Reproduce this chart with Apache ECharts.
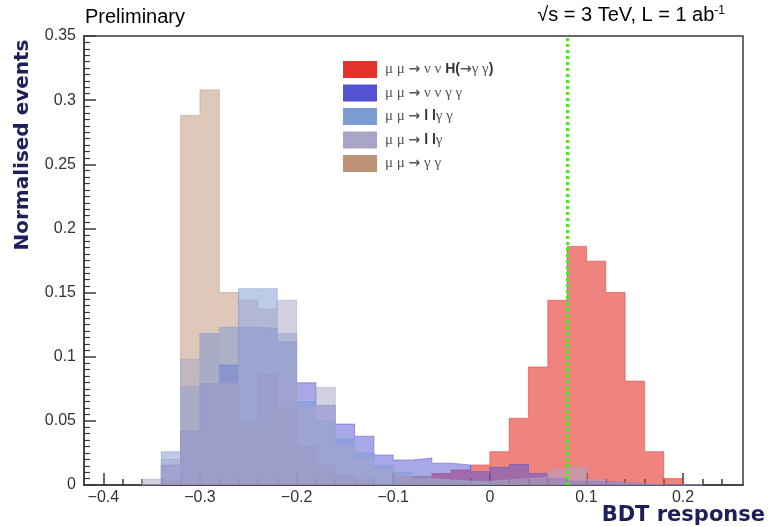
<!DOCTYPE html>
<html><head><meta charset="utf-8">
<script src="https://cdn.jsdelivr.net/npm/echarts@6/dist/echarts.min.js"></script>
<style>html,body{margin:0;padding:0;background:#fff}#c{width:769px;height:527px}</style>
</head><body><div id="c"></div>
<script>
// Bin edges of the BDT response histograms (width 0.02)
const binEdges = [-0.36,-0.34,-0.32,-0.30,-0.28,-0.26,-0.24,-0.22,-0.20,-0.18,-0.16,-0.14,-0.12,-0.10,-0.08,-0.06,-0.04,-0.02,0.00,0.02,0.04,0.06,0.08,0.10,0.12,0.14,0.16,0.18,0.20,0.22];

// Normalised contents per bin (29 bins)
const sigH   = [0,0,0,0,0,0,0,0,0,0,0,0,0.001,0.0065,0.0065,0.009,0.0117,0.0156,0.026,0.052,0.092,0.144,0.186,0.1745,0.150,0.081,0.026,0.005,0];
const bkgVVGG = [0,0.0156,0.042,0.079,0.0935,0.123,0.122,0.1116,0.0797,0.062,0.0475,0.038,0.0234,0.0195,0.021,0.017,0.0156,0.0104,0.0138,0.016,0.009,0.005,0.003,0.0026,0.002,0.001,0,0,0];
const bkgLLGG = [0,0.026,0.077,0.118,0.123,0.153,0.153,0.118,0.065,0.05,0.036,0.025,0.015,0.01,0.006,0.004,0.003,0.002,0.001,0,0,0,0,0,0,0,0,0,0];
const bkgLLG  = [0.0045,0.020,0.098,0.118,0.079,0.144,0.137,0.144,0.06,0.076,0.03,0.02,0.012,0.008,0.005,0.004,0.003,0.003,0.004,0.005,0.006,0.0117,0.0138,0.004,0.002,0.001,0,0,0];
const bkgGG   = [0,0.003,0.288,0.308,0.150,0.048,0.086,0.06,0.03,0.015,0.008,0.004,0,0,0,0,0,0,0,0,0,0,0,0,0,0,0,0,0];

const legendOrder = ['H','VVGG','LLGG','LLG','GG'];
const drawOrder = ['GG','H','VVGG','LLGG','LLG'];
const cutValue = 0.081;

const xMajorTicks = [-0.4,-0.3,-0.2,-0.1,0,0.1,0.2];
const xMinorTicks = [-0.40,-0.38,-0.36,-0.34,-0.32,-0.30,-0.28,-0.26,-0.24,-0.22,-0.20,-0.18,-0.16,-0.14,-0.12,-0.10,-0.08,-0.06,-0.04,-0.02,0,0.02,0.04,0.06,0.08,0.10,0.12,0.14,0.16,0.18,0.20,0.22,0.24];

const colors = {H:'#e5322a', VVGG:'#5252d2', LLGG:'#7d9bd3', LLG:'#a8a6c6', GG:'#bd9276'};
const alphas = {H:0.6, VVGG:0.5, LLGG:0.52, LLG:0.52, GG:0.5};
const labels = {
  H: '{g|μ μ }{a|→}{g| ν ν }{b|H(}{a|→}{g|γ γ}{b|)}',
  VVGG: '{g|μ μ }{a|→}{g| ν ν γ γ}',
  LLGG: '{g|μ μ }{a|→}{b| l l}{g|γ γ}',
  LLG: '{g|μ μ }{a|→}{b| l l}{g|γ}',
  GG: '{g|μ μ }{a|→}{g| γ γ}'
};

function stepData(vals){
  const d = [[binEdges[0], 0]];
  for (let i = 0; i < vals.length; i++) d.push([binEdges[i], vals[i]]);
  d.push([binEdges[vals.length], 0]);
  return d;
}

const dataMap = {H:sigH, VVGG:bkgVVGG, LLGG:bkgLLGG, LLG:bkgLLG, GG:bkgGG};

const series = drawOrder.map((n, i) => {
  const s = {
    name: n, type: 'line', step: 'end', showSymbol: false, symbol: 'none',
    data: stepData(dataMap[n]),
    color: colors[n],
    itemStyle: {color: colors[n]},
    lineStyle: {color: colors[n], width: 1, opacity: 0.5},
    areaStyle: {color: colors[n], opacity: alphas[n]},
    z: 2 + i, silent: true
  };
  if (n === 'H') {
    s.markLine = {
      silent: true, symbol: ['none','none'], label: {show: false},
      lineStyle: {color: '#52e330', width: 3, type: [3, 3], cap: 'butt'},
      data: [{xAxis: cutValue}], z: 20
    };
  }
  return s;
});

const chart = echarts.init(document.getElementById('c'), null, {renderer: 'canvas'});
const axisCol = '#3a3a3a';
const navy = '#1e1e5a';
chart.setOption({
  animation: false,
  backgroundColor: '#fff',
  grid: {left: 84, right: 26, top: 36, bottom: 42, show: true, borderColor: axisCol, borderWidth: 1.5, backgroundColor: 'transparent'},
  legend: {
    orient: 'vertical', left: 343, top: 61, padding: 0, itemWidth: 34, itemHeight: 17, itemGap: 6.5, icon: 'rect',
    selectedMode: false,
    data: legendOrder.map(n => ({name: n, itemStyle: {color: colors[n], opacity: 1}})),
    formatter: n => labels[n],
    textStyle: {
      color: '#555', padding: [0,0,0,3],
      rich: {
        g: {fontFamily: 'Liberation Serif', fontSize: 15, color: '#555'},
        a: {fontFamily: 'DejaVu Sans', fontSize: 14, fontWeight: 'bold', color: '#555'},
        b: {fontFamily: 'Liberation Sans', fontSize: 14, fontWeight: 'bold', color: '#333'}
      }
    }
  },
  xAxis: [{
    type: 'value', min: -0.42, max: 0.262,
    axisLine: {show: true, onZero: false, lineStyle: {color: axisCol, width: 1.5}},
    axisTick: {show: true, inside: true, length: 12, customValues: xMajorTicks, lineStyle: {color: axisCol, width: 1.5}},
    axisLabel: {show: true, customValues: xMajorTicks, fontFamily: 'Liberation Sans', fontSize: 16, color: '#333', margin: 5,
      formatter: v => (Math.abs(v) < 1e-9 ? '0' : (v < 0 ? '\u2212' : '') + Math.abs(v).toFixed(1))},
    splitLine: {show: false}
  }, {
    type: 'value', min: -0.42, max: 0.262, position: 'bottom',
    axisLine: {show: false, onZero: false},
    axisTick: {show: true, inside: true, length: 6, customValues: xMinorTicks, lineStyle: {color: axisCol, width: 1.5}},
    axisLabel: {show: false}, splitLine: {show: false}
  }],
  yAxis: {
    type: 'value', min: 0, max: 0.35, interval: 0.05,
    axisLine: {show: true, onZero: false, lineStyle: {color: axisCol, width: 1.5}},
    axisTick: {show: true, inside: true, length: 12, lineStyle: {color: axisCol, width: 1.5}},
    minorTick: {show: true, splitNumber: 10, length: 6, lineStyle: {color: axisCol, width: 1.2}},
    axisLabel: {fontFamily: 'Liberation Sans', fontSize: 16, color: '#333', margin: 8,
      formatter: v => (v === 0 ? '0' : String(+v.toFixed(2)))},
    splitLine: {show: false}
  },
  graphic: [
    {type: 'text', left: 85, top: 7, style: {text: 'Preliminary', font: '20px "Liberation Sans"', fill: '#000'}},
    {type: 'text', right: 44, top: 5, style: {
      text: '{n|√s = 3 TeV, L = 1 ab}{s|-1}',
      rich: {n: {fontFamily: 'Liberation Sans', fontSize: 20, color: '#000'},
             s: {fontFamily: 'Liberation Sans', fontSize: 12, color: '#000', verticalAlign: 'top', padding: [0,0,9,0]}}
    }},
    {type: 'text', x: 23, y: 145, rotation: Math.PI / 2, style: {
      text: 'Normalised events', font: 'bold 20px "DejaVu Sans"', fill: navy, textAlign: 'center', textVerticalAlign: 'middle'}},
    {type: 'text', right: 4, top: 505, style: {text: 'BDT response', font: 'bold 21px "DejaVu Sans"', fill: navy}}
  ],
  series: series
});
</script></body></html>
